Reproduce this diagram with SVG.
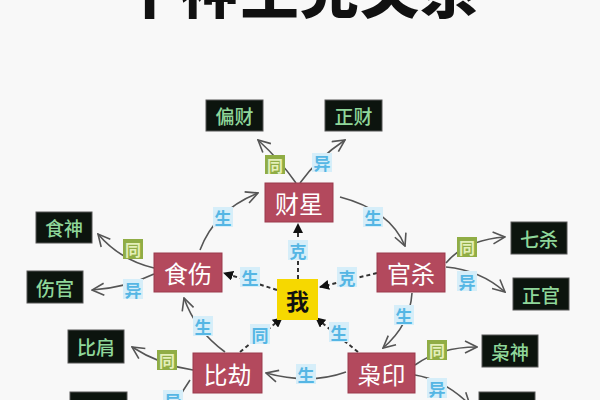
<svg xmlns="http://www.w3.org/2000/svg" width="600" height="400" viewBox="0 0 600 400">
<defs>
<style>
text{font-family:"Noto Sans CJK SC","Noto Sans",sans-serif;text-anchor:middle;dominant-baseline:central}
.title{font-size:59px;font-weight:900;fill:#111;dominant-baseline:alphabetic;letter-spacing:1px}
.main rect{fill:#b3495d;stroke:#9a3a4d;stroke-width:1}
.main text{fill:#fff;font-size:24px;font-weight:400}
.leaf rect{fill:#0c140e;stroke:#555;stroke-width:1}
.leaf text{fill:#8fd79a;font-size:19px;font-weight:500}
.me rect{fill:#f6d800}
.me text{fill:#111;font-size:23px;font-weight:700}
.tg rect{fill:#90ad45}
.tg text{fill:#e4efb8;font-size:16px;font-weight:700}
.tb rect{fill:#d6eef9}
.tb text{fill:#55b6e4;font-size:17px;font-weight:700}
.arr{fill:none;stroke:#555;stroke-width:1.6;marker-end:url(#open)}
.dash{fill:none;stroke:#333;stroke-width:2;stroke-dasharray:4 3;marker-end:url(#solid)}
</style>
<marker id="open" viewBox="0 0 14 14" refX="13" refY="7" markerWidth="14" markerHeight="14" markerUnits="userSpaceOnUse" orient="auto">
<path d="M1,1 L13,7 L1,13" fill="none" stroke="#555" stroke-width="1.6"/>
</marker>
<marker id="solid" viewBox="0 0 10 10" refX="9" refY="5" markerWidth="10" markerHeight="10" markerUnits="userSpaceOnUse" orient="auto">
<path d="M0,0 L10,5 L0,10 Z" fill="#111"/>
</marker>
</defs>
<rect width="600" height="400" fill="#f8f8f8"/>
<text class="title" x="300" y="13">十神生克关系</text>

<g id="connectors">
<path class="arr" d="M296 183 Q280 160 258 140"/>
<path class="arr" d="M300 183 Q318 158 345 140"/>
<path class="arr" d="M200 250 Q215 210 258 193"/>
<path class="arr" d="M340 197 Q390 210 405 246"/>
<path class="arr" d="M225 352 Q195 330 184 298"/>
<path class="arr" d="M346 372 Q310 385 266 373"/>
<path class="arr" d="M412 293 Q410 325 383 348"/>
<path class="arr" d="M154 268 Q120 260 98 234"/>
<path class="arr" d="M154 274 Q125 288 92 290"/>
<path class="arr" d="M193 370 Q160 365 132 347"/>
<path class="arr" d="M190 380 Q180 395 172 410"/>
<path class="arr" d="M446 263 Q465 240 505 237"/>
<path class="arr" d="M446 267 Q480 270 505 292"/>
<path class="arr" d="M415 365 Q440 347 477 347"/>
<path class="arr" d="M415 375 Q445 380 470 405"/>
<path class="dash" d="M298 279 L298 224"/>
<path class="dash" d="M277 290 L224 273"/>
<path class="dash" d="M377 273 L320 287"/>
<path class="dash" d="M240 352 L282 318"/>
<path class="dash" d="M358 352 L316 318"/>
</g>

<g id="caixing" class="main"><rect x="265" y="183" width="68" height="39"/><text x="299" y="202.5">财星</text></g>
<g id="shishang" class="main"><rect x="154" y="253" width="68" height="39"/><text x="188" y="272.5">食伤</text></g>
<g id="guansha" class="main"><rect x="377" y="253" width="68" height="39"/><text x="411" y="272.5">官杀</text></g>
<g id="bijie" class="main"><rect x="193" y="353" width="69" height="40"/><text x="227.5" y="373">比劫</text></g>
<g id="xiaoyin" class="main"><rect x="348" y="353" width="67" height="40"/><text x="381.5" y="373">枭印</text></g>
<g id="wo" class="me"><rect x="277" y="279" width="41" height="41"/><text x="297.5" y="299.5">我</text></g>

<g id="piancai" class="leaf"><rect x="206" y="100" width="57" height="31"/><text x="234.5" y="115.5">偏财</text></g>
<g id="zhengcai" class="leaf"><rect x="325" y="100" width="57" height="31"/><text x="353.5" y="115.5">正财</text></g>
<g id="shishen" class="leaf"><rect x="36" y="212" width="56" height="31"/><text x="64" y="227.5">食神</text></g>
<g id="shangguan" class="leaf"><rect x="27" y="271" width="56" height="32"/><text x="55" y="287">伤官</text></g>
<g id="bijian" class="leaf"><rect x="68" y="330" width="56" height="33"/><text x="96" y="346.5">比肩</text></g>
<g id="jiecai" class="leaf"><rect x="70" y="392" width="57" height="32"/><text x="98.5" y="408">劫财</text></g>
<g id="qisha" class="leaf"><rect x="511" y="222" width="56" height="32"/><text x="539" y="238">七杀</text></g>
<g id="zhengguan" class="leaf"><rect x="513" y="278" width="56" height="32"/><text x="541" y="294">正官</text></g>
<g id="xiaoshen" class="leaf"><rect x="482" y="335" width="56" height="32"/><text x="510" y="351">枭神</text></g>
<g id="zhengyin" class="leaf"><rect x="479" y="392" width="56" height="32"/><text x="507" y="408">正印</text></g>

<g id="labels">
<g class="tg"><rect x="265" y="155" width="20" height="19"/><text x="275" y="164.5">同</text></g>
<g class="tb"><rect x="312" y="153" width="20" height="19"/><text x="322" y="162.5">异</text></g>
<g class="tb"><rect x="213" y="207" width="20" height="20"/><text x="223" y="217">生</text></g>
<g class="tb"><rect x="363" y="207" width="20" height="20"/><text x="373" y="217">生</text></g>
<g class="tb"><rect x="288" y="240" width="20" height="20"/><text x="298" y="250">克</text></g>
<g class="tb"><rect x="240" y="267" width="20" height="20"/><text x="250" y="277">生</text></g>
<g class="tb"><rect x="337" y="267" width="20" height="20"/><text x="347" y="277">克</text></g>
<g class="tb"><rect x="193" y="316" width="20" height="20"/><text x="203" y="326">生</text></g>
<g class="tb"><rect x="250" y="324" width="20" height="20"/><text x="260" y="334">同</text></g>
<g class="tb"><rect x="329" y="322" width="20" height="20"/><text x="339" y="332">生</text></g>
<g class="tb"><rect x="394" y="305" width="20" height="20"/><text x="404" y="315">生</text></g>
<g class="tb"><rect x="296" y="364" width="20" height="20"/><text x="306" y="374">生</text></g>
<g class="tg"><rect x="123" y="239" width="20" height="20"/><text x="133" y="249">同</text></g>
<g class="tb"><rect x="123" y="279" width="20" height="20"/><text x="133" y="289">异</text></g>
<g class="tg"><rect x="157" y="350" width="20" height="20"/><text x="167" y="360">同</text></g>
<g class="tb"><rect x="163" y="390" width="20" height="20"/><text x="173" y="400">异</text></g>
<g class="tg"><rect x="457" y="237" width="20" height="20"/><text x="467" y="247">同</text></g>
<g class="tb"><rect x="457" y="271" width="20" height="20"/><text x="467" y="281">异</text></g>
<g class="tg"><rect x="427" y="340" width="20" height="20"/><text x="437" y="350">同</text></g>
<g class="tb"><rect x="427" y="378" width="20" height="20"/><text x="437" y="388">异</text></g>
</g>
</svg>
